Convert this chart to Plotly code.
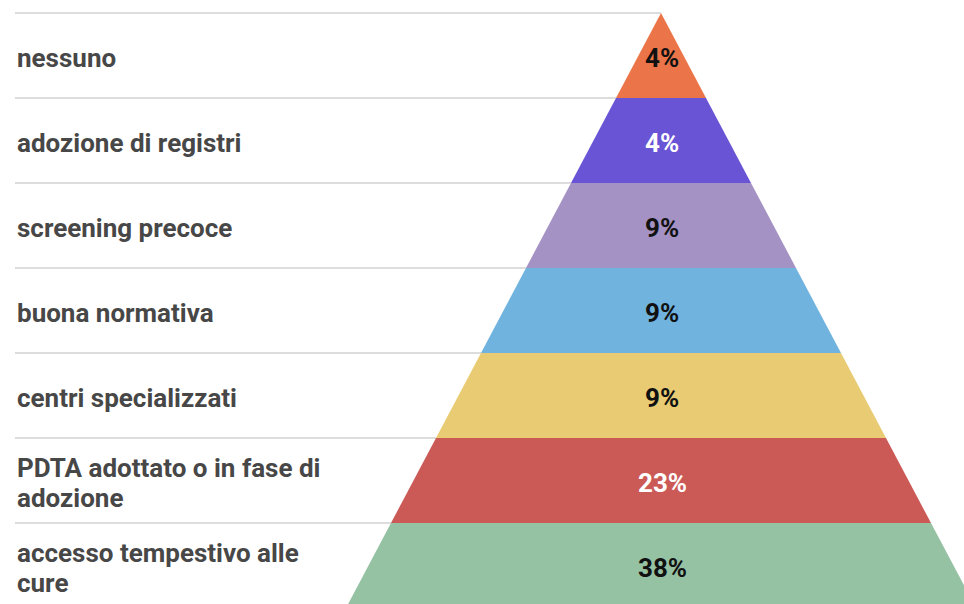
import plotly.graph_objects as go

# ---- data ----
categories = [
    "nessuno",
    "adozione di registri",
    "screening precoce",
    "buona normativa",
    "centri specializzati",
    "PDTA adottato o in fase di<br>adozione",
    "accesso tempestivo alle<br>cure",
]
values = [4, 4, 9, 9, 9, 23, 38]
band_colors = ["#EB7548", "#6A54D6", "#A592C4", "#70B3DF", "#E8CB72", "#CB5A57", "#96C2A4"]
value_text_colors = ["#111111", "#FFFFFF", "#111111", "#111111", "#111111", "#FFFFFF", "#111111"]

# ---- geometry (layout) ----
W, H = 964, 604
APEX_X = 661          # x of pyramid apex (axis units = px)
HALF_PER_LEVEL = 45   # half-width growth per band
TOP_PX = 13           # pixel of apex
BAND_PX = 85          # band height in px
LABEL_X = 15
LINE_X0 = 15
LINE_GAP = 30 / BAND_PX
TEXT_OFF = 2.5 / BAND_PX

fig = go.Figure()
for i, (cat, v, c, tc) in enumerate(zip(categories, values, band_colors, value_text_colors)):
    top, bot = i, i + 1
    xs = [APEX_X - HALF_PER_LEVEL * top, APEX_X + HALF_PER_LEVEL * top,
          APEX_X + HALF_PER_LEVEL * bot, APEX_X - HALF_PER_LEVEL * bot,
          APEX_X - HALF_PER_LEVEL * top]
    ys = [top, top, bot, bot, top]
    fig.add_trace(go.Scatter(x=xs, y=ys, fill="toself", fillcolor=c, mode="lines",
                             line=dict(width=0, color=c), hoverinfo="skip", showlegend=False))
    fig.add_annotation(x=APEX_X + 1, y=i + 0.5 + TEXT_OFF, xref="x", yref="y", text=f"<b>{v}%</b>",
                       showarrow=False, yanchor="middle",
                       font=dict(family="Roboto", size=26, color=tc))
    parts = cat.split("<br>")
    k = len(parts)
    for j, part in enumerate(parts):
        fig.add_annotation(x=LABEL_X, y=i + 0.5 + TEXT_OFF + (j - (k - 1) / 2) * LINE_GAP,
                           xref="x", yref="y", text=f"<b>{part}</b>",
                           showarrow=False, xanchor="left", yanchor="middle", align="left",
                           font=dict(family="Roboto", size=26, color="#474747"))
    fig.add_shape(type="line", xref="x", yref="y", x0=LINE_X0, x1=APEX_X - HALF_PER_LEVEL * top,
                  y0=top, y1=top, line=dict(color="#D2D2D2", width=1.5), layer="below")

y0 = -TOP_PX / BAND_PX
y1 = (H - TOP_PX) / BAND_PX
fig.update_layout(
    width=W, height=H,
    margin=dict(l=0, r=0, t=0, b=0),
    paper_bgcolor="white", plot_bgcolor="white",
    xaxis=dict(range=[0, W], visible=False, fixedrange=True),
    yaxis=dict(range=[y1, y0], visible=False, fixedrange=True),
    showlegend=False,
)
fig.write_html("out.html")
